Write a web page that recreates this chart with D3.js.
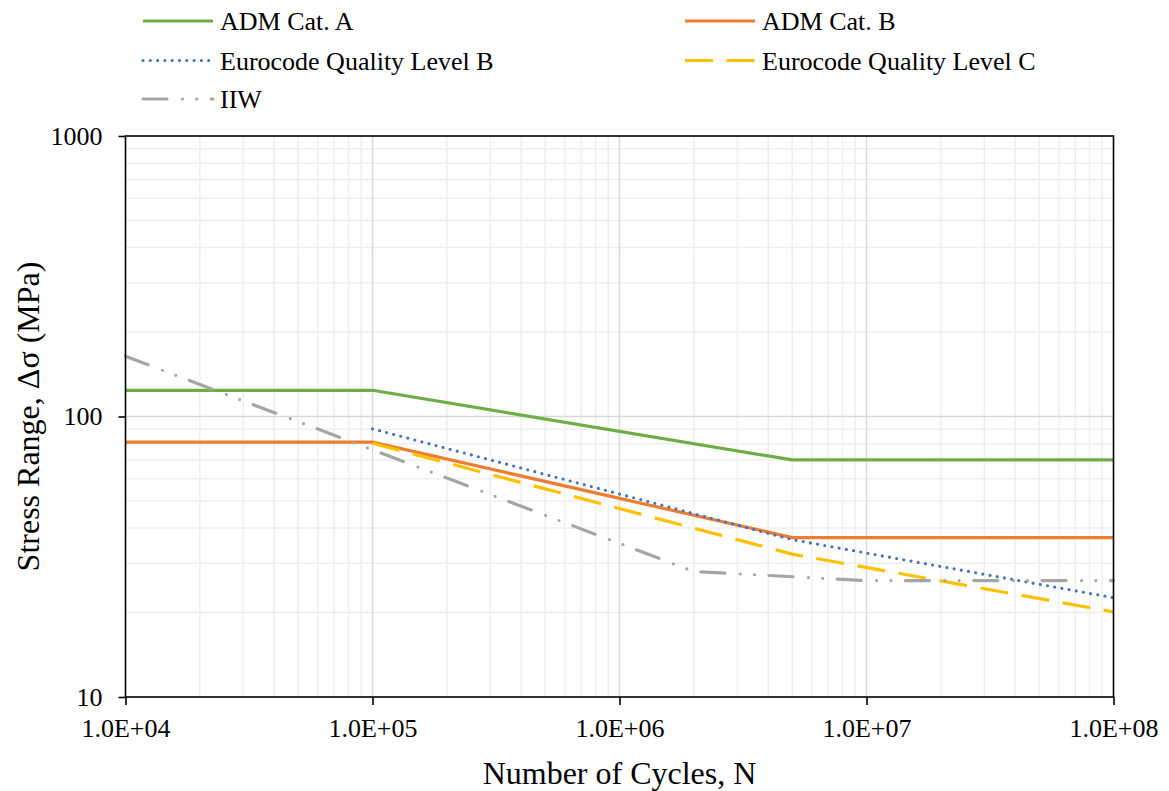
<!DOCTYPE html>
<html>
<head>
<meta charset="utf-8">
<script src="https://cdn.jsdelivr.net/npm/d3@7"></script>
<style>
  html, body { margin: 0; padding: 0; background: #fff; }
  svg { display: block; }
  text { font-family: "Liberation Serif", "Times New Roman", serif; fill: #000; }
</style>
</head>
<body>
<svg id="chart" width="1169" height="791"></svg>
<script>
// S-N curves: stress range (MPa) versus number of cycles
const seriesNames = ["ADM Cat. A", "ADM Cat. B", "Eurocode Quality Level B", "Eurocode Quality Level C", "IIW"];

const admA_N = [1e4, 1e5, 5e6, 1e8];
const admA_S = [124, 124, 70, 70];

const admB_N = [1e4, 1e5, 5e6, 1e8];
const admB_S = [81, 81, 37, 37];

const ecB_N = [1e5, 5e6, 1e8];
const ecB_S = [90.4, 36.4, 22.6];

const ecC_N = [1e5, 5e6, 1e8];
const ecC_S = [80.3, 32.3, 20.1];

const iiw_N = [1e4, 2e6, 1e7, 1e8];
const iiw_S = [164, 28, 26, 26];

const xTickValues = [1e4, 1e5, 1e6, 1e7, 1e8];
const xTickLabels = ["1.0E+04", "1.0E+05", "1.0E+06", "1.0E+07", "1.0E+08"];
const yTickValues = [10, 100, 1000];
const yTickLabels = ["10", "100", "1000"];

const xTitle = "Number of Cycles, N";
const yTitle = "Stress Range, Δσ (MPa)";

// line styles per series
const styles = [
  { color: "#70ad47", dash: null, cap: "butt" },
  { color: "#ed7d31", dash: null, cap: "butt" },
  { color: "#4472c4", dash: "0 7.3", cap: "round" },
  { color: "#ffc000", dash: "28 13.7", cap: "butt" },
  { color: "#a5a5a5", dash: "24 15.5 0 14.3 0 14.5", cap: "round" }
];

const series = [
  { N: admA_N, S: admA_S },
  { N: admB_N, S: admB_S },
  { N: ecB_N, S: ecB_S },
  { N: ecC_N, S: ecC_S },
  { N: iiw_N, S: iiw_S }
].map((s, i) => ({ name: seriesNames[i], style: styles[i], pts: s.N.map((n, j) => [n, s.S[j]]) }));

const svg = d3.select("#chart");
const plotL = 125.5, plotR = 1113.5, plotT = 136, plotB = 697;

const x = d3.scaleLog().domain([1e4, 1e8]).range([plotL, plotR]);
const y = d3.scaleLog().domain([10, 1000]).range([plotB, plotT]);

// minor and major gridlines
const minorX = [], minorY = [];
for (let d = 4; d < 8; d++) for (let k = 2; k <= 9; k++) minorX.push(k * Math.pow(10, d));
for (let d = 1; d < 3; d++) for (let k = 2; k <= 9; k++) minorY.push(k * Math.pow(10, d));

const grid = svg.append("g");
grid.selectAll(".vminor").data(minorX).join("line")
  .attr("x1", d => x(d)).attr("x2", d => x(d)).attr("y1", plotT).attr("y2", plotB)
  .attr("stroke", "#efefef").attr("stroke-width", 1.5);
grid.selectAll(".hminor").data(minorY).join("line")
  .attr("y1", d => y(d)).attr("y2", d => y(d)).attr("x1", plotL).attr("x2", plotR)
  .attr("stroke", "#efefef").attr("stroke-width", 1.5);
grid.selectAll(".vmajor").data([1e5, 1e6, 1e7]).join("line")
  .attr("x1", d => x(d)).attr("x2", d => x(d)).attr("y1", plotT).attr("y2", plotB)
  .attr("stroke", "#d9d9d9").attr("stroke-width", 1.5);
grid.selectAll(".hmajor").data([100]).join("line")
  .attr("y1", d => y(d)).attr("y2", d => y(d)).attr("x1", plotL).attr("x2", plotR)
  .attr("stroke", "#d9d9d9").attr("stroke-width", 1.5);

// curves
const line = d3.line().x(d => x(d[0])).y(d => y(d[1]));
const curves = svg.append("g");
series.forEach(s => {
  curves.append("path")
    .attr("d", line(s.pts))
    .attr("fill", "none")
    .attr("stroke", s.style.color)
    .attr("stroke-width", 3.2)
    .attr("stroke-linecap", s.style.cap)
    .attr("stroke-linejoin", "round")
    .attr("stroke-dasharray", s.style.dash);
});

// frame
svg.append("rect")
  .attr("x", plotL).attr("y", plotT).attr("width", plotR - plotL).attr("height", plotB - plotT)
  .attr("fill", "none").attr("stroke", "#000").attr("stroke-width", 1.6);

// x axis
const xAxis = d3.axisBottom(x).tickValues(xTickValues)
  .tickFormat((d, i) => xTickLabels[i]).tickSize(8).tickPadding(14);
const gx = svg.append("g").attr("transform", `translate(0,${plotB})`).call(xAxis);
gx.select(".domain").remove();
gx.selectAll(".tick line").attr("stroke", "#000").attr("stroke-width", 1.6);
gx.selectAll(".tick text").attr("font-size", 26).attr("font-family", "Liberation Serif");

// y axis
const yAxis = d3.axisLeft(y).tickValues(yTickValues)
  .tickFormat((d, i) => yTickLabels[i]).tickSize(7).tickPadding(16);
const gy = svg.append("g").attr("transform", `translate(${plotL},0)`).call(yAxis);
gy.select(".domain").remove();
gy.selectAll(".tick line").attr("stroke", "#000").attr("stroke-width", 1.6);
gy.selectAll(".tick text").attr("font-size", 26).attr("font-family", "Liberation Serif");

// axis titles
svg.append("text")
  .attr("x", (plotL + plotR) / 2).attr("y", 784)
  .attr("text-anchor", "middle").attr("font-size", 32)
  .text(xTitle);
svg.append("text")
  .attr("transform", `translate(39,${(plotT + plotB) / 2}) rotate(-90)`)
  .attr("text-anchor", "middle").attr("font-size", 32)
  .text(yTitle);

// legend
const legendPos = [
  { x: 143, y: 21 }, { x: 685, y: 21 },
  { x: 143, y: 60.5 }, { x: 685, y: 60.5 },
  { x: 143, y: 99 }
];
const legend = svg.append("g");
series.forEach((s, i) => {
  const p = legendPos[i];
  legend.append("line")
    .attr("x1", p.x).attr("x2", p.x + 70).attr("y1", p.y).attr("y2", p.y)
    .attr("stroke", s.style.color).attr("stroke-width", 3.2)
    .attr("stroke-linecap", s.style.cap)
    .attr("stroke-dasharray", s.style.dash);
  legend.append("text")
    .attr("x", p.x + 77).attr("y", p.y + 9)
    .attr("font-size", 26)
    .text(s.name);
});
</script>
</body>
</html>
